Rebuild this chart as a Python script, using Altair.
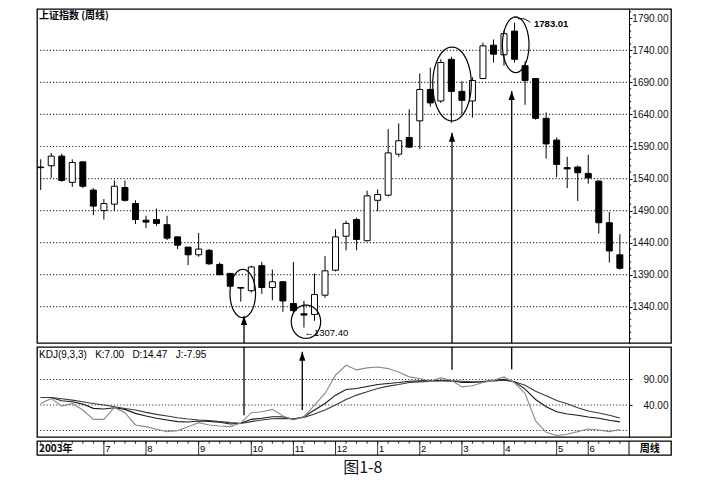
import math
import altair as alt
import pandas as pd

# ---------------- data ----------------
opens = [1558, 1560, 1575, 1534, 1566, 1522, 1490, 1500, 1526, 1501,
         1475, 1476, 1468, 1449, 1433, 1421, 1428, 1406, 1392, 1370,
         1365, 1404, 1370, 1379, 1345, 1329, 1328, 1358, 1397, 1450,
         1476, 1443, 1506, 1514, 1578, 1604, 1630, 1679, 1661, 1726,
         1676, 1661, 1696, 1748, 1733, 1770, 1716, 1696, 1634, 1600,
         1557, 1558, 1548, 1536, 1471, 1421]
highs = [1570, 1580, 1579, 1570, 1567, 1525, 1508, 1537, 1537, 1506,
         1482, 1493, 1482, 1449, 1433, 1455, 1430, 1409, 1392, 1370,
         1404, 1410, 1398, 1380, 1410, 1349, 1392, 1419, 1461, 1474,
         1479, 1521, 1523, 1617, 1626, 1648, 1704, 1713, 1726, 1730,
         1692, 1698, 1752, 1757, 1771, 1783.01, 1723, 1696, 1643, 1604,
         1574, 1560, 1577, 1537, 1488, 1453]
lows = [1522, 1541, 1535, 1527, 1525, 1483, 1476, 1489, 1504, 1469,
        1463, 1466, 1444, 1430, 1405, 1418, 1405, 1389, 1370, 1348,
        1362, 1360, 1350, 1332, 1331, 1307.40, 1318, 1354, 1395, 1428,
        1428, 1442, 1489, 1512, 1574, 1588, 1586, 1652, 1658, 1627,
        1640, 1635, 1695, 1721, 1716, 1721, 1655, 1632, 1571, 1542,
        1525, 1505, 1532, 1454, 1409, 1398]
closes = [1557, 1575, 1537, 1565, 1528, 1497, 1501, 1528, 1506, 1476,
          1472, 1470, 1447, 1436, 1421, 1430, 1407, 1390, 1372, 1369,
          1402, 1370, 1379, 1349, 1334, 1327, 1359, 1396, 1449, 1470,
          1445, 1513, 1515, 1580, 1599, 1589, 1679, 1658, 1721, 1676,
          1662, 1693, 1747, 1734, 1766, 1726, 1693, 1634, 1594, 1562,
          1555, 1549, 1541, 1471, 1427, 1400]

k_vals = [54.8, 54.8, 48.3, 46.4, 41.8, 33.4, 32.1, 34.6, 31.4, 23.6,
          18.4, 13.9, 10.6, 7.4, 6.7, 8.7, 8.0, 6.1, 2.8, 4.1,
          11.9, 13.9, 17.1, 17.1, 11.9, 17.1, 30.1, 43.1, 59.3, 70.4,
          72.4, 76.3, 80.2, 82.2, 84.1, 86.7, 87.4, 88.0, 88.0, 87.4,
          84.1, 84.1, 86.0, 88.0, 90.6, 85.4, 71.1, 50.9, 36.7, 26.9,
          22.4, 19.8, 16.5, 13.9, 10.0, 7.00]
d_vals = [54.8, 54.8, 52.2, 49.6, 46.4, 43.1, 39.9, 36.6, 33.3, 30.1,
          25.5, 21.6, 18.4, 15.1, 12.6, 10.6, 9.3, 7.4, 5.4, 4.1,
          7.4, 10.6, 13.2, 13.9, 13.2, 15.8, 22.3, 30.1, 39.9, 50.9,
          59.4, 65.9, 72.4, 77.0, 80.2, 84.1, 85.4, 86.7, 87.4, 87.4,
          86.7, 85.4, 85.4, 87.4, 88.7, 85.4, 78.9, 67.2, 58.1, 49.0,
          42.5, 34.7, 28.2, 24.3, 19.8, 14.47]
j_vals = [43.1, 52.9, 37.9, 43.1, 30.1, 11.9, 11.9, 35.3, 24.9, 0.9,
          -2.4, -7.6, -12.2, -10.2, -2.4, 5.4, 0.9, -1.1, -2.4, 4.8,
          24.9, 26.9, 31.4, 18.4, 10.6, 17.1, 39.9, 62.6, 98.4, 117.9,
          108.8, 112.7, 114.6, 111.4, 104.9, 95.2, 91.9, 86.7, 93.2, 88.7,
          75.6, 77.6, 84.1, 88.7, 95.0, 83.5, 62.6, 8.7, -13.4, -19.9,
          -17.3, -12.1, -6.9, -8.9, -12.1, -7.95]

month_idx = [0, 6, 10, 15, 20, 24, 28, 32, 36, 40, 44, 49, 52]
month_lbl = ["2003年", "7", "8", "9", "10", "11", "12", "1", "2", "3", "4", "5", "6"]

price_ticks = [1340, 1390, 1440, 1490, 1540, 1590, 1640, 1690, 1740, 1790]
price_grid = [1340, 1390, 1440, 1490, 1540, 1590, 1640, 1690, 1740]
kdj_ticks = [40, 90]
kdj_grid = [-10, 40, 90]

# annotations: circled candles (index, price, half-width px, half-height px)
ell_i = [19.19, 25.19, 39.06, 45.11]
ell_p = [1360.6, 1316.6, 1687.5, 1748.7]
ell_rx = [12.8, 14.7, 19.3, 13.3]
ell_ry = [24.2, 16.7, 37.0, 27.8]

# arrows: index, tip (price panel or kdj panel), kdj end value
arrow_i = [19.31, 24.84, 39.06, 44.73]
arrow_price_tip = [1325.5, None, 1611.5, 1676.6]
arrow_kdj_tip = [None, 144.5, None, None]
arrow_kdj_end = [20, 30, 109, 110]

# ---------------- layout constants ----------------
X_MIN, X_MAX = -0.351, 59.858
AXIS_X = 55.87
P_MIN, P_MAX = 1283.4, 1804.5
K_MIN, K_MAX = -22.7, 153.7
W = 634
H_P, H_K, H_S = 334, 90, 14

xs = alt.Scale(domain=[X_MIN, X_MAX], nice=False, zero=False, padding=0)
ps = alt.Scale(domain=[P_MIN, P_MAX], nice=False, zero=False, padding=0)
ks = alt.Scale(domain=[K_MIN, K_MAX], nice=False, zero=False, padding=0)
ss = alt.Scale(domain=[0, 1], nice=False, zero=False, padding=0)

FONT = "Liberation Sans"
CJK = "Noto Sans CJK SC"
NB = "\u00a0"

n = len(opens)
candles = pd.DataFrame({"i": list(range(n)), "open": opens, "high": highs,
                        "low": lows, "close": closes})
candles["fill"] = ["white" if c > o else "black" for o, c in zip(opens, closes)]


def X(field="i"):
    return alt.X(f"{field}:Q", scale=xs, axis=None)


def axis_right(values):
    return alt.Axis(orient="right", offset=-42, values=values, format=".2f",
                    grid=False, tickSize=3, tickColor="black", domainColor="black",
                    domainWidth=1, labelAlign="right", labelPadding=36,
                    labelFontSize=10, labelFont=FONT, labelColor="#111",
                    labelFlush=False, labelOverlap=False, title=None)


PAX = axis_right(price_ticks)
KAX = axis_right(kdj_ticks)


def YP(field):
    return alt.Y(f"{field}:Q", scale=ps, axis=PAX)


def YK(field):
    return alt.Y(f"{field}:Q", scale=ks, axis=KAX)


def seg_frame(values, x0, x1, key):
    rows = []
    for v in values:
        rows.append({"g": v, "x": x0, key: v})
        rows.append({"g": v, "x": x1, key: v})
    return pd.DataFrame(rows)


# ---------------- price panel ----------------
grid_df = seg_frame(price_grid, X_MIN, AXIS_X, "p")
grid = alt.Chart(grid_df).mark_line(color="#333", strokeDash=[1.2, 2], strokeWidth=1.2,
                                    opacity=1).encode(
    x=X("x"), y=YP("p"), detail="g:N")

minor_vals = [v for v in range(1290, 1805, 10) if v not in price_ticks]
minor_df = seg_frame(minor_vals, AXIS_X, AXIS_X + 0.2, "p")
minor = alt.Chart(minor_df).mark_line(color="black", strokeWidth=1).encode(
    x=X("x"), y=YP("p"), detail="g:N")

wick = alt.Chart(candles).mark_rule(color="black", strokeWidth=1).encode(
    x=X(), y=YP("low"), y2="high:Q")

body = alt.Chart(candles).mark_bar(size=6, stroke="black", strokeWidth=1).encode(
    x=X(), y=YP("open"), y2="close:Q",
    fill=alt.Fill("fill:N", scale=None))


def ellipse_path(rx, ry, n_pts=48):
    m = max(rx, ry)
    pts = []
    for t in range(n_pts):
        a = 2 * math.pi * t / n_pts
        pts.append(f"{rx / m * math.cos(a):.4f},{ry / m * math.sin(a):.4f}")
    return "M" + "L".join(pts) + "Z"


ellipses = []
for ei, ep, rx, ry in zip(ell_i, ell_p, ell_rx, ell_ry):
    m = max(rx, ry)
    df = pd.DataFrame({"i": [ei], "p": [ep]})
    ellipses.append(alt.Chart(df).mark_point(
        shape=ellipse_path(rx, ry), size=(2 * m) ** 2, filled=False,
        color="black", strokeWidth=1.2, opacity=1).encode(
        x=X(), y=YP("p")))

TRI = "M0,0L0.7,2L-0.7,2Z"
pa = [(a, t) for a, t in zip(arrow_i, arrow_price_tip) if t is not None]
arr_p_df = pd.DataFrame({"i": [a for a, _ in pa], "tip": [t for _, t in pa], "bot": P_MIN})
arr_p_line = alt.Chart(arr_p_df).mark_rule(color="black", strokeWidth=1.3).encode(
    x=X(), y=YP("tip"), y2="bot:Q")
arr_p_head = alt.Chart(arr_p_df).mark_point(shape=TRI, size=81, filled=True,
                                            color="black", opacity=1).encode(
    x=X(), y=YP("tip"))

ptext_df = pd.DataFrame({"i": [-0.16], "p": [1793.0], "t": ["上证指数 (周线)"]})
ptitle = alt.Chart(ptext_df).mark_text(align="left", baseline="middle", font=CJK,
                                       fontSize=10, fontWeight="bold", color="black").encode(
    x=X(), y=YP("p"), text="t:N")

hi_df = pd.DataFrame({"i": [46.85], "p": [1781], "t": ["1783.01"]})
hi_text = alt.Chart(hi_df).mark_text(align="left", baseline="middle", font=FONT,
                                     fontSize=9.5, fontWeight="bold", color="black").encode(
    x=X(), y=YP("p"), text="t:N")
hi_arrow_df = pd.DataFrame({"g": [1, 1, 1], "i": [46.5, 45.9, 45.3],
                            "p": [1783.5, 1790.5, 1789.0]})
hi_arrow = alt.Chart(hi_arrow_df).mark_line(color="black", strokeWidth=1,
                                            interpolate="basis").encode(
    x=X(), y=YP("p"), detail="g:N", order="i:Q")

lo_df = pd.DataFrame({"i": [25.05], "p": [1299.7], "t": ["←1307.40"]})
lo_text = alt.Chart(lo_df).mark_text(align="left", baseline="middle", font=FONT,
                                     fontSize=9.5, color="black").encode(
    x=X(), y=YP("p"), text="t:N")

price = alt.layer(grid, minor, wick, body, *ellipses, arr_p_line, arr_p_head,
                  ptitle, hi_text, hi_arrow, lo_text).properties(width=W, height=H_P)

# ---------------- KDJ panel ----------------
kgrid_df = seg_frame(kdj_grid, X_MIN, AXIS_X, "v")
kgrid = alt.Chart(kgrid_df).mark_line(color="#333", strokeDash=[1.2, 2], strokeWidth=1.2,
                                      opacity=1).encode(
    x=X("x"), y=YK("v"), detail="g:N")

kdj_df = pd.concat([
    pd.DataFrame({"i": list(range(n)), "v": k_vals, "s": "K"}),
    pd.DataFrame({"i": list(range(n)), "v": d_vals, "s": "D"}),
    pd.DataFrame({"i": list(range(n)), "v": j_vals, "s": "J"}),
])
kdj_lines = alt.Chart(kdj_df).mark_line(strokeWidth=1.1).encode(
    x=X(), y=YK("v"),
    color=alt.Color("s:N", scale=alt.Scale(domain=["J", "K", "D"],
                                           range=["#8a8a8a", "#1a1a1a", "#3a3a3a"]),
                    legend=None),
    order=alt.Order("i:Q"))

arr_k_df = pd.DataFrame({
    "i": arrow_i,
    "top": [K_MAX if t is None else t for t in arrow_kdj_tip],
    "end": arrow_kdj_end,
})
arr_k_line = alt.Chart(arr_k_df).mark_rule(color="black", strokeWidth=1.3).encode(
    x=X(), y=YK("top"), y2="end:Q")
kh = [(a, t) for a, t in zip(arrow_i, arrow_kdj_tip) if t is not None]
arr_k_head_df = pd.DataFrame({"i": [a for a, _ in kh], "tip": [t for _, t in kh]})
arr_k_head = alt.Chart(arr_k_head_df).mark_point(shape=TRI, size=81, filled=True,
                                                 color="black", opacity=1).encode(
    x=X(), y=YK("tip"))

gap = NB * 3
klabel_df = pd.DataFrame({"i": [-0.16], "v": [138],
                          "t": [f"KDJ(9,3,3){gap}K:7.00{gap}D:14.47{gap}J:-7.95"]})
klabel = alt.Chart(klabel_df).mark_text(align="left", baseline="middle", font=FONT,
                                        fontSize=10, color="black").encode(
    x=X(), y=YK("v"), text="t:N")

kdj = alt.layer(kgrid, kdj_lines, arr_k_line, arr_k_head, klabel).properties(width=W, height=H_K)

# ---------------- date strip ----------------
week_df = pd.DataFrame({"i": list(range(n)), "a": 1.0, "b": 0.8})
weeks = alt.Chart(week_df).mark_rule(color="black", strokeWidth=0.8).encode(
    x=X(), y=alt.Y("a:Q", scale=ss, axis=None), y2="b:Q")
mt_df = pd.DataFrame({"i": month_idx[1:], "a": 1.0, "b": 0.0})
mticks = alt.Chart(mt_df).mark_rule(color="black", strokeWidth=0.8).encode(
    x=X(), y=alt.Y("a:Q", scale=ss, axis=None), y2="b:Q")
ml_df = pd.DataFrame({"i": [m + 0.12 for m in month_idx[1:]], "y": 0.45,
                      "t": month_lbl[1:]})
mlabels = alt.Chart(ml_df).mark_text(align="left", baseline="middle", font=FONT,
                                     fontSize=9.5, color="black").encode(
    x=X(), y=alt.Y("y:Q", scale=ss, axis=None), text="t:N")
yr_df = pd.DataFrame({"i": [-0.16], "y": [0.45], "t": [month_lbl[0]]})
yr_label = alt.Chart(yr_df).mark_text(align="left", baseline="middle", font=CJK,
                                      fontSize=10, fontWeight="bold", color="black").encode(
    x=X(), y=alt.Y("y:Q", scale=ss, axis=None), text="t:N")
div_df = pd.DataFrame({"i": [AXIS_X], "a": 1.0, "b": 0.0})
divider = alt.Chart(div_df).mark_rule(color="black", strokeWidth=1).encode(
    x=X(), y=alt.Y("a:Q", scale=ss, axis=None), y2="b:Q")
zx_df = pd.DataFrame({"i": [56.9], "y": [0.45], "t": ["周线"]})
zx_text = alt.Chart(zx_df).mark_text(align="left", baseline="middle", font=CJK,
                                     fontSize=10, fontWeight="bold", color="black").encode(
    x=X(), y=alt.Y("y:Q", scale=ss, axis=None), text="t:N")

strip = alt.layer(weeks, mticks, mlabels, yr_label, divider, zx_text).properties(
    width=W, height=H_S)

chart = alt.vconcat(price, kdj, strip, spacing=0).properties(
    padding={"left": 25, "top": 0, "right": 5, "bottom": 2},
    title=alt.TitleParams(text="图1-8", orient="bottom", anchor="middle", font=CJK,
                          fontSize=16, fontWeight="normal", color="#111", offset=4, dx=10),
).configure_view(stroke="black", strokeWidth=1.3).configure_concat(spacing=0)

chart.save("out.html", embed_options={"renderer": "svg", "actions": False})
